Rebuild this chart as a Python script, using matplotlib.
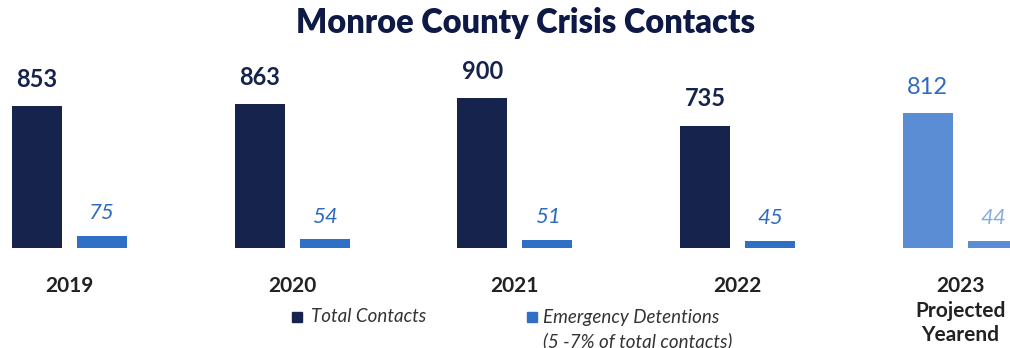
import numpy as np
import matplotlib.pyplot as plt
from matplotlib.patches import Rectangle

years = ['2019', '2020', '2021', '2022', '2023\nProjected\nYearend']
total = [853, 863, 900, 735, 812]
emerg = [75, 54, 51, 45, 44]

dark = '#15234d'
blue = '#2f6fc6'
proj = '#5b8dd5'
total_colors = [dark, dark, dark, dark, proj]
emerg_colors = [blue, blue, blue, blue, proj]
total_txt = [dark, dark, dark, dark, '#2e69c0']
emerg_txt = ['#2d6bc0'] * 4 + ['#86ace3']
total_bold = ['bold'] * 4 + ['normal']

plt.rcParams['font.family'] = ['Lato', 'DejaVu Sans']

fig = plt.figure(figsize=(10.1, 3.48), dpi=100)
ax = fig.add_axes([0, 100 / 348, 1, 166.5 / 348])
x = np.arange(len(years))
off = 0.146
w = 0.2245
b1 = ax.bar(x - off, total, w, color=total_colors)
b2 = ax.bar(x + off, emerg, w, color=emerg_colors)

for i in range(len(years)):
    ax.annotate(str(total[i]), (x[i] - off, total[i]), xytext=(0, 11),
                textcoords='offset points', ha='center', va='bottom',
                fontsize=17, fontweight=total_bold[i], color=total_txt[i])
    ax.annotate(str(emerg[i]), (x[i] + off, emerg[i]), xytext=(0, 9),
                textcoords='offset points', ha='center', va='bottom',
                fontsize=16, fontstyle='italic', color=emerg_txt[i])

ax.set_xlim(-69.5 / 222.7, (1010 - 69.5) / 222.7)
ax.set_ylim(0, 1000)
ax.set_xticks(x)
ax.set_xticklabels(years, fontsize=15, fontweight='bold', color='#222222',
                   linespacing=1.3)
ax.tick_params(axis='x', length=0, pad=20)
ax.set_yticks([])
for s in ax.spines.values():
    s.set_visible(False)

fig.suptitle('Monroe County Crisis Contacts', x=0.52, y=0.98, va='top',
             fontsize=23.5, fontweight='heavy', color='#0e1a45')

# legend
fig.patches.append(Rectangle((292 / 1010, 1 - 322 / 348), 10 / 1010, 10 / 348,
                             transform=fig.transFigure, color=dark))
fig.text(311 / 1010, 1 - 317 / 348, 'Total Contacts', fontsize=13.5,
         fontstyle='italic', color='#333333', va='center')
fig.patches.append(Rectangle((527 / 1010, 1 - 322 / 348), 10 / 1010, 10 / 348,
                             transform=fig.transFigure, color=blue))
fig.text(543 / 1010, 1 - 317 / 348, 'Emergency Detentions', fontsize=13.5,
         fontstyle='italic', color='#333333', va='center')
fig.text(543 / 1010, 1 - 341 / 348, '(5 -7% of total contacts)', fontsize=13.5,
         fontstyle='italic', color='#333333', va='center')

fig.savefig('out.png', dpi=100)
